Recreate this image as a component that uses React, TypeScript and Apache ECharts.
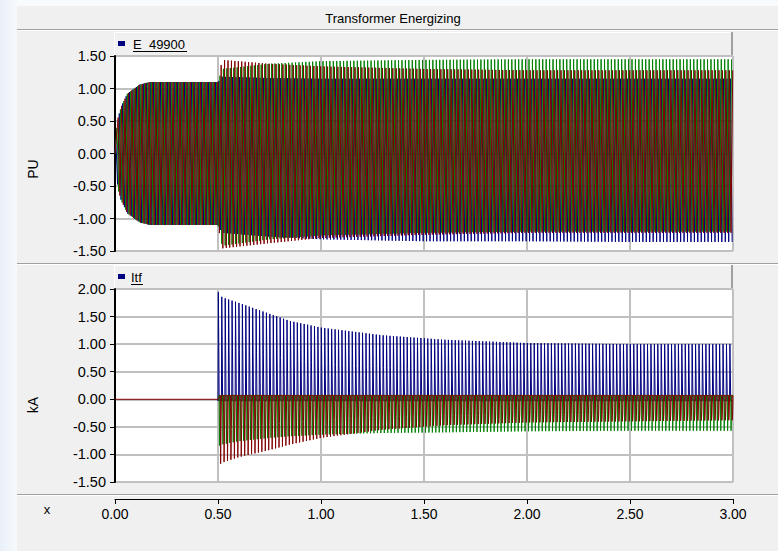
import React, { useEffect, useRef } from "react";
import * as echarts from "echarts";

const FONT = '"Liberation Sans", Arial, sans-serif';
const TITLE = "Transformer Energizing";
const LEGEND_TOP = "E_49900";
const LEGEND_BOTTOM = "Itf";
const Y_NAME_TOP = "PU";
const Y_NAME_BOTTOM = "kA";
const X_NAME = "x";

// axis ranges / ticks
const X_MIN = 0;
const X_MAX = 3;
const X_STEP = 0.5;
const Y_TOP_MIN = -1.5;
const Y_TOP_MAX = 1.5;
const Y_BOT_MIN = -1.5;
const Y_BOT_MAX = 2.0;
const Y_STEP = 0.5;

// waveform facts
const FREQ_HZ = 60; // about 30 cycles per 0.5 s on the plot
const PHASE_SHIFT = [0, 1 / 3, 2 / 3]; // blue, green, red (fraction of a cycle)
const SWITCH_T = 0.5; // transformer energized

// Voltage envelopes (PU)
const V_T = [0, 0.015, 0.03, 0.06, 0.12, 0.17, 0.5, 0.52, 0.75, 1.0, 1.5, 2.0, 2.5, 3.0];
const V_BLUE_HI = [0.1, 0.55, 0.72, 0.92, 1.06, 1.1, 1.1, 1.18, 1.16, 1.15, 1.15, 1.15, 1.15, 1.15];
const V_BLUE_LO = [-0.1, -0.55, -0.72, -0.92, -1.06, -1.1, -1.1, -1.22, -1.28, -1.32, -1.35, -1.35, -1.36, -1.36];
const V_GREEN_HI = [0.1, 0.55, 0.72, 0.92, 1.06, 1.1, 1.1, 1.3, 1.38, 1.42, 1.44, 1.45, 1.45, 1.45];
const V_GREEN_LO = [-0.1, -0.55, -0.72, -0.92, -1.06, -1.1, -1.1, -1.42, -1.32, -1.26, -1.22, -1.2, -1.2, -1.2];
const V_RED_HI = [0.1, 0.55, 0.72, 0.92, 1.06, 1.1, 1.1, 1.44, 1.38, 1.34, 1.3, 1.28, 1.28, 1.28];
const V_RED_LO = [-0.1, -0.55, -0.72, -0.92, -1.06, -1.1, -1.1, -1.46, -1.38, -1.3, -1.25, -1.22, -1.22, -1.22];

// Current pulse envelopes (kA)
const I_T = [0.5, 0.52, 0.6, 0.75, 0.85, 1.0, 1.3, 1.6, 2.0, 2.5, 3.0];
const I_BLUE_PEAK = [1.95, 1.85, 1.75, 1.55, 1.42, 1.3, 1.16, 1.08, 1.02, 1.0, 1.0];
const I_BLUE_SHOULDER = [1.1, 1.0, 0.9, 0.8, 0.72, 0.65, 0.58, 0.52, 0.5, 0.5, 0.5];
const I_GREEN_PEAK = [-0.85, -0.82, -0.76, -0.7, -0.67, -0.64, -0.61, -0.6, -0.58, -0.57, -0.57];
const I_GREEN_SHOULDER = [-0.3, -0.3, -0.28, -0.26, -0.25, -0.24, -0.22, -0.2, -0.2, -0.2, -0.2];
const I_RED_PEAK = [-1.2, -1.15, -1.05, -0.92, -0.82, -0.7, -0.55, -0.47, -0.42, -0.4, -0.38];
const I_RED_SHOULDER = [-0.6, -0.58, -0.52, -0.46, -0.42, -0.38, -0.32, -0.3, -0.28, -0.27, -0.27];
const I_BLUE_BASE = -0.03;
const I_RG_BASE = 0.07;

const C_BLUE = "#000080";
const C_GREEN = "#008000";
const C_RED = "#800000";
const GRID_C = "#c0c0c0";

function envAt(ts: number[], vs: number[], t: number): number {
  if (t <= ts[0]) return vs[0];
  for (let i = 1; i < ts.length; i++) {
    if (t <= ts[i]) {
      const f = (t - ts[i - 1]) / (ts[i] - ts[i - 1]);
      return vs[i - 1] + f * (vs[i] - vs[i - 1]);
    }
  }
  return vs[vs.length - 1];
}

// one sample per half-cycle peak, taken from the read envelopes
function voltageWave(shift: number, hi: number[], lo: number[]) {
  const pts: number[][] = [[0, 0]];
  const T = 1 / FREQ_HZ;
  for (let k = 0; ; k++) {
    const t = (shift + 0.25 + k * 0.5) * T;
    if (t > X_MAX) break;
    pts.push([t, k % 2 === 0 ? envAt(V_T, hi, t) : envAt(V_T, lo, t)]);
  }
  return pts;
}

// one pulse per cycle: base -> peak -> shoulder -> base
function currentWave(shift: number, peak: number[], shoulder: number[], base: number, fromZero: boolean) {
  const pts: number[][] = fromZero ? [[0, 0], [SWITCH_T, 0]] : [[SWITCH_T, 0]];
  const T = 1 / FREQ_HZ;
  for (let k = 0; ; k++) {
    const t0 = (shift + k) * T;
    if (t0 > X_MAX) break;
    if (t0 < SWITCH_T) continue;
    pts.push([t0, base]);
    const tp = t0 + 0.1 * T;
    if (tp <= X_MAX) pts.push([tp, envAt(I_T, peak, tp)]);
    const ts = t0 + 0.22 * T;
    if (ts <= X_MAX) pts.push([ts, envAt(I_T, shoulder, ts)]);
    const te = t0 + 0.34 * T;
    if (te <= X_MAX) pts.push([te, base]);
  }
  pts.push([X_MAX, base]);
  return pts;
}

const fmt2 = (v: number) => v.toFixed(2);

export default function App() {
  const ref = useRef<HTMLDivElement>(null);
  useEffect(() => {
    if (!ref.current) return;
    const chart = echarts.init(ref.current, undefined, { renderer: "svg" });

    const lineSeries = (name: string, data: number[][], color: string, idx: number) => ({
      name,
      type: "line",
      xAxisIndex: idx,
      yAxisIndex: idx,
      data,
      showSymbol: false,
      symbol: "none",
      lineStyle: { color, width: 1, opacity: 1 },
      itemStyle: { color },
      emphasis: { disabled: true },
      silent: true,
      z: 3,
    });

    const yAxisCommon = {
      type: "value",
      interval: Y_STEP,
      axisLine: { show: true, onZero: false, lineStyle: { color: "#000", width: 2 } },
      axisTick: { show: true, length: 5, lineStyle: { color: "#000", width: 1 } },
      axisLabel: { show: true, margin: 9, fontSize: 14.5, color: "#000", fontFamily: FONT, formatter: fmt2 },
      splitLine: { show: true, lineStyle: { color: GRID_C, width: 2 } },
    };

    const option: any = {
      animation: false,
      backgroundColor: "#f0f0f0",
      textStyle: { fontFamily: FONT },
      grid: [
        { left: 115, top: 56, width: 618, height: 195, show: true, backgroundColor: "#ffffff", borderWidth: 0 },
        { left: 115, top: 289, width: 618, height: 193, show: true, backgroundColor: "#ffffff", borderWidth: 0 },
      ],
      xAxis: [
        {
          gridIndex: 0, type: "value", min: X_MIN, max: X_MAX, interval: X_STEP,
          axisLine: { show: false, onZero: false }, axisTick: { show: false }, axisLabel: { show: false },
          splitLine: { show: true, lineStyle: { color: GRID_C, width: 2 } },
        },
        {
          gridIndex: 1, type: "value", min: X_MIN, max: X_MAX, interval: X_STEP, offset: 17,
          axisLine: { show: true, onZero: false, lineStyle: { color: "#000", width: 1 } },
          axisTick: { show: true, length: 5, lineStyle: { color: "#000" } },
          axisLabel: { show: true, margin: 8, fontSize: 14, color: "#000", fontFamily: FONT, formatter: fmt2 },
          splitLine: { show: true, lineStyle: { color: GRID_C, width: 2 } },
        },
      ],
      yAxis: [
        { ...yAxisCommon, gridIndex: 0, min: Y_TOP_MIN, max: Y_TOP_MAX },
        { ...yAxisCommon, gridIndex: 1, min: Y_BOT_MIN, max: Y_BOT_MAX },
      ],
      series: [
        lineSeries("E_49900:1", voltageWave(PHASE_SHIFT[0], V_BLUE_HI, V_BLUE_LO), C_BLUE, 0),
        lineSeries("E_49900:2", voltageWave(PHASE_SHIFT[1], V_GREEN_HI, V_GREEN_LO), C_GREEN, 0),
        lineSeries("E_49900:3", voltageWave(PHASE_SHIFT[2], V_RED_HI, V_RED_LO), C_RED, 0),
        lineSeries("Itf:1", currentWave(PHASE_SHIFT[0], I_BLUE_PEAK, I_BLUE_SHOULDER, I_BLUE_BASE, false), C_BLUE, 1),
        lineSeries("Itf:2", currentWave(PHASE_SHIFT[1], I_GREEN_PEAK, I_GREEN_SHOULDER, I_RG_BASE, false), C_GREEN, 1),
        lineSeries("Itf:3", currentWave(PHASE_SHIFT[2], I_RED_PEAK, I_RED_SHOULDER, I_RG_BASE, true), C_RED, 1),
      ],
      graphic: [
        // left light strip and top strip
        {
          type: "rect", z: -10, silent: true, shape: { x: 0, y: 0, width: 17, height: 551 },
          style: { fill: new echarts.graphic.LinearGradient(0, 0, 1, 0, [
            { offset: 0, color: "#e9f0f8" }, { offset: 1, color: "#f7fafd" }]) },
        },
        { type: "rect", z: -10, silent: true, shape: { x: 17, y: 0, width: 761, height: 6 }, style: { fill: "#f8fbfe" } },
        // title bar
        {
          type: "text", silent: true, x: 393, y: 18,
          style: { text: TITLE, font: `13px ${FONT}`, fill: "#000", align: "center", verticalAlign: "middle" },
        },
        { type: "line", silent: true, shape: { x1: 17, y1: 29.5, x2: 778, y2: 29.5 }, style: { stroke: "#a0a0a0", lineWidth: 1 } },
        { type: "line", silent: true, shape: { x1: 17, y1: 30.5, x2: 778, y2: 30.5 }, style: { stroke: "#ffffff", lineWidth: 1 } },
        // top legend box
        { type: "line", silent: true, shape: { x1: 114, y1: 32.5, x2: 731, y2: 32.5 }, style: { stroke: "#ffffff", lineWidth: 1 } },
        { type: "line", silent: true, shape: { x1: 114.5, y1: 32, x2: 114.5, y2: 55 }, style: { stroke: "#ffffff", lineWidth: 1 } },
        { type: "line", silent: true, shape: { x1: 732, y1: 32, x2: 732, y2: 56 }, style: { stroke: "#a0a0a0", lineWidth: 2 } },
        { type: "rect", silent: true, shape: { x: 118, y: 41, width: 7, height: 5 }, style: { fill: C_BLUE } },
        {
          type: "text", silent: true, x: 133, y: 44,
          style: { text: LEGEND_TOP, font: `13px ${FONT}`, fill: "#000", verticalAlign: "middle" },
        },
        { type: "line", silent: true, shape: { x1: 133, y1: 51.5, x2: 187, y2: 51.5 }, style: { stroke: "#000", lineWidth: 1 } },
        // separator between panels
        { type: "line", silent: true, shape: { x1: 17, y1: 263.5, x2: 778, y2: 263.5 }, style: { stroke: "#a0a0a0", lineWidth: 1 } },
        { type: "line", silent: true, shape: { x1: 17, y1: 264.5, x2: 778, y2: 264.5 }, style: { stroke: "#ffffff", lineWidth: 1 } },
        // bottom legend box
        { type: "line", silent: true, shape: { x1: 114, y1: 265.5, x2: 731, y2: 265.5 }, style: { stroke: "#ffffff", lineWidth: 1 } },
        { type: "line", silent: true, shape: { x1: 114.5, y1: 265, x2: 114.5, y2: 288 }, style: { stroke: "#ffffff", lineWidth: 1 } },
        { type: "line", silent: true, shape: { x1: 732, y1: 265, x2: 732, y2: 289 }, style: { stroke: "#a0a0a0", lineWidth: 2 } },
        { type: "rect", silent: true, shape: { x: 118, y: 274, width: 7, height: 5 }, style: { fill: C_BLUE } },
        {
          type: "text", silent: true, x: 131, y: 277,
          style: { text: LEGEND_BOTTOM, font: `13px ${FONT}`, fill: "#000", verticalAlign: "middle" },
        },
        { type: "line", silent: true, shape: { x1: 131, y1: 284.5, x2: 143, y2: 284.5 }, style: { stroke: "#000", lineWidth: 1 } },
        // separator above x axis
        { type: "line", silent: true, shape: { x1: 17, y1: 494.5, x2: 778, y2: 494.5 }, style: { stroke: "#a0a0a0", lineWidth: 1 } },
        { type: "line", silent: true, shape: { x1: 17, y1: 495.5, x2: 778, y2: 495.5 }, style: { stroke: "#ffffff", lineWidth: 1 } },
        // axis names
        {
          type: "text", silent: true, x: 33, y: 169, rotation: Math.PI / 2,
          style: { text: Y_NAME_TOP, font: `14px ${FONT}`, fill: "#000", align: "center", verticalAlign: "middle" },
        },
        {
          type: "text", silent: true, x: 33, y: 405, rotation: Math.PI / 2,
          style: { text: Y_NAME_BOTTOM, font: `14px ${FONT}`, fill: "#000", align: "center", verticalAlign: "middle" },
        },
        {
          type: "text", silent: true, x: 47, y: 509,
          style: { text: X_NAME, font: `13px ${FONT}`, fill: "#000", align: "center", verticalAlign: "middle" },
        },
      ],
    };
    chart.setOption(option);
    return () => chart.dispose();
  }, []);

  return (
    <div
      ref={ref}
      style={{ position: "fixed", left: 0, top: 0, width: 778, height: 551 }}
    />
  );
}
